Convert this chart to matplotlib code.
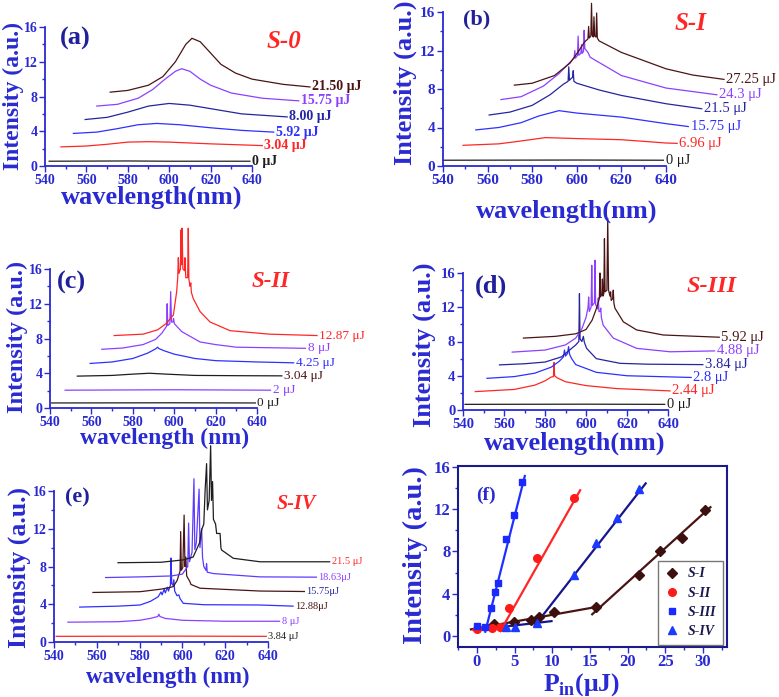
import matplotlib
matplotlib.use('Agg')
import matplotlib.pyplot as plt
from matplotlib.ticker import MultipleLocator

plt.rcParams['font.family'] = ['Liberation Serif', 'DejaVu Serif']
plt.rcParams['font.weight'] = 'bold'
plt.rcParams['mathtext.fontset'] = 'custom'
plt.rcParams['mathtext.rm'] = 'Liberation Serif:bold'
plt.rcParams['mathtext.bf'] = 'Liberation Serif:bold'

W, H = 779, 697

# colours
BLACK = '#1e1e1e'
RED = '#ff2626'
BLUE = '#2f2fff'
NAVY = '#25259e'
PURPLE = '#8c40ff'
VIOLET = '#5e3cff'
BROWN = '#4b1414'
AXC = '#2a2ad2'
LETTER = '#20209a'

# ---------------- spectra, (wavelength nm, intensity a.u.)
# (a) S-0
A_0 = [(542, 0.55), (580, 0.58), (600, 0.55), (639, 0.55)]
A_304 = [(547.7, 2.2), (560, 2.3), (570, 2.5), (580, 2.75), (590, 2.8), (600, 2.75), (620, 2.55), (645, 2.35)]
A_592 = [(553.7, 3.75), (565, 3.9), (575, 4.3), (585, 4.75), (594, 4.9), (605, 4.75), (620, 4.4), (635, 4.1), (650.5, 3.9)]
A_800 = [(559.4, 5.35), (570, 5.6), (580, 6.2), (590, 6.9), (600, 7.2), (610, 7.0), (620, 6.6), (635, 6.0), (657, 5.65)]
A_1575 = [(565, 6.9), (575, 7.1), (585, 7.8), (592, 8.8), (598, 10.0), (603, 10.9), (606, 11.2), (610, 10.9),
          (615, 10.0), (620, 9.3), (630, 8.4), (645, 7.8), (662.6, 7.5)]
A_2150 = [(571.5, 8.5), (580, 8.7), (590, 9.3), (597, 10.3), (603, 12.0), (608, 14.0), (611, 14.7), (615, 14.3),
          (620, 13.0), (625, 11.7), (632, 10.7), (640, 10.0), (655, 9.4), (668, 9.1)]

# (b) S-I
B_0 = [(540, 0.6), (600, 0.62), (638.8, 0.6)]
B_696 = [(549, 2.15), (565, 2.3), (575, 2.6), (586, 2.95), (600, 2.85), (620, 2.73), (640, 2.39), (645, 2.35)]
B_1575 = [(554.7, 3.75), (565, 4.0), (575, 4.5), (583, 5.2), (592, 5.75), (600, 5.5), (620, 5.08), (640, 4.4), (650, 4.1)]
B_2150 = [(560.7, 5.3), (570, 5.6), (580, 6.3), (588, 7.4), (594, 8.5), (596.1, 8.8), (596.4, 10.3), (596.7, 8.9),
          (597.5, 9.1), (598.1, 9.2), (598.4, 9.9), (598.7, 8.8), (600, 8.6), (610, 7.9), (620, 7.33), (640, 6.47),
          (656, 5.95)]
B_2430 = [(566, 6.9), (575, 7.2), (585, 8.3), (592, 9.6), (597, 10.8), (598.8, 11.2), (599.1, 12.0), (599.4, 11.2),
          (600.3, 11.5), (600.6, 13.5), (600.9, 11.5), (601.8, 11.7), (602.1, 12.6), (602.4, 11.7), (603, 11.9),
          (603.3, 14.1), (603.6, 12.2), (605, 11.8), (606, 11.3), (620, 9.4), (640, 8.1), (662.8, 7.4)]
B_2725 = [(572, 8.4), (580, 8.6), (590, 9.4), (597, 10.7), (601, 12.0), (603.5, 12.9), (605, 13.2), (605.3, 14.5),
          (605.6, 13.3), (606.3, 13.5), (606.6, 16.9), (606.9, 13.6), (607.4, 13.4), (607.7, 15.5), (608, 13.5),
          (608.6, 13.4), (608.9, 15.9), (609.2, 13.3), (610, 13.0), (620, 11.8), (640, 10.1), (652, 9.45), (666, 9.0)]

# (c) S-II
C_0 = [(540.8, 0.58), (600, 0.6), (639.2, 0.58)]
C_2 = [(547.3, 2.05), (600, 2.1), (646.5, 2.05)]
C_304 = [(553.2, 3.67), (570, 3.75), (580, 3.9), (588, 4.0), (596, 3.9), (610, 3.75), (630, 3.72), (652, 3.7)]
C_425 = [(559.4, 5.13), (570, 5.3), (580, 5.7), (587, 6.3), (591, 6.8), (592, 7.0), (592.5, 6.85), (595, 6.6),
         (600, 6.2), (610, 5.7), (620, 5.45), (640, 5.3), (657.7, 5.2)]
C_8 = [(565, 6.76), (575, 6.9), (585, 7.3), (591, 7.9), (594, 8.6), (596.3, 9.4), (596.6, 12.0), (596.9, 9.5),
       (597.9, 9.7), (598.3, 13.4), (598.7, 9.9), (599.4, 9.9), (599.7, 10.3), (600.1, 9.7), (603.6, 8.8),
       (612.5, 7.6), (620, 7.3), (630, 7.0), (663.4, 6.87)]
C_1287 = [(571, 8.34), (585, 8.5), (592, 9.0), (596, 9.7), (599.6, 10.7), (601.2, 13.4), (601.7, 15.0), (602, 17.3),
          (602.3, 15.5), (603, 16.0), (603.3, 20.5), (603.6, 16.5), (603.8, 20.7), (604.2, 16.0), (605, 15.8),
          (605.2, 17.3), (605.6, 15.0), (606.5, 15.0), (606.8, 20.7), (607.1, 14.8), (607.7, 14.0), (608, 14.4),
          (608.3, 13.3), (609.2, 12.6), (612.5, 11.1), (617.3, 9.9), (627, 8.9), (646, 8.5), (669, 8.34)]

# (d) S-III
D_0 = [(541, 0.66), (600, 0.68), (638.4, 0.66)]
D_244 = [(546, 2.15), (565, 2.4), (575, 2.9), (580, 3.4), (583, 3.85), (584.1, 3.9), (584.4, 5.55), (584.7, 4.0),
         (586, 3.75), (590, 3.3), (600, 2.85), (615, 2.5), (641, 2.23)]
D_28 = [(551.7, 3.7), (565, 3.9), (575, 4.3), (583, 5.0), (587, 5.7), (589, 6.2), (589.5, 7.0), (590, 6.3),
        (591, 6.6), (591.5, 7.4), (592, 6.5), (593, 6.0), (595, 5.3), (605, 4.4), (620, 4.0), (651.3, 3.8)]
D_384 = [(557.8, 5.27), (570, 5.4), (580, 5.6), (588, 6.2), (592, 7.0), (595, 7.6), (596.5, 8.0), (596.8, 13.6),
         (597.1, 8.3), (598, 8.0), (598.7, 8.6), (599.2, 7.9), (600.3, 7.2), (605, 6.0), (616.6, 5.45), (630, 5.35),
         (657, 5.3)]
D_488 = [(564, 6.76), (580, 7.0), (590, 7.6), (595, 8.4), (598, 9.5), (600, 10.8), (601, 12.0), (601.3, 13.2),
         (601.6, 11.5), (602.5, 12.0), (602.8, 16.9), (603.1, 12.2), (604.1, 12.5), (604.4, 17.5), (604.7, 12.3),
         (605.7, 11.8), (606, 13.1), (606.3, 11.5), (606.9, 11.5), (607.2, 11.9), (607.5, 10.8), (608.4, 9.9),
         (613.3, 8.4), (624.7, 7.2), (641, 6.8), (662.7, 6.9)]
D_592 = [(569.5, 8.4), (585, 8.6), (595, 8.9), (600, 9.4), (603, 10.5), (605, 11.8), (606.5, 13.0), (606.8, 16.0),
         (607.1, 13.2), (607.7, 13.5), (608, 15.3), (608.3, 13.3), (608.7, 13.6), (609, 20.0), (609.3, 13.8),
         (610.2, 14.0), (610.6, 22.4), (611, 14.0), (611.7, 13.3), (612, 13.8), (612.3, 12.8), (613, 13.0),
         (613.3, 14.0), (613.6, 12.5), (614.1, 11.9), (618.2, 10.3), (624.7, 9.35), (637.7, 8.76), (665, 8.5)]

# (e) S-IV
E_384 = [(541, 0.6), (600, 0.62), (639.2, 0.6)]
E_8 = [(546.5, 2.1), (570, 2.15), (580, 2.3), (585, 2.5), (588.5, 2.7), (589, 2.95), (589.5, 2.7), (592, 2.5),
       (600, 2.3), (620, 2.2), (645.4, 2.2)]
E_1288 = [(552, 3.7), (570, 3.8), (580.2, 3.92), (585, 4.3), (588.7, 4.8), (590, 5.3), (590.5, 5.0), (591.5, 5.6),
          (592, 5.2), (593, 5.8), (593.5, 5.4), (594.4, 6.0), (594.7, 8.9), (595, 6.2), (595.6, 6.0), (596, 6.6),
          (596.4, 5.4), (597.5, 4.9), (598.3, 5.0), (598.9, 4.6), (600.4, 4.1), (610, 3.95), (636.3, 3.92),
          (651.7, 3.8)]
E_1575 = [(558.2, 5.25), (580.2, 5.33), (590, 5.6), (595.7, 5.86), (597.5, 6.5), (598.9, 7.5), (599.2, 11.7),
          (599.5, 7.6), (600.2, 7.9), (600.8, 13.45), (601.2, 8.0), (601.6, 9.0), (602, 7.0), (603.5, 6.4),
          (604, 6.1), (608.2, 5.7), (636.3, 5.4), (657, 5.35)]
E_1863 = [(564.1, 6.83), (580.2, 6.9), (595, 7.0), (600, 7.2), (602.5, 8.0), (602.9, 12.6), (603.3, 8.5),
          (604.5, 9.5), (605.4, 17.3), (605.8, 9.8), (606.5, 10.5), (607.8, 16.2), (608.2, 10.0), (609, 12.0),
          (609.4, 9.0), (610, 8.0), (611, 7.6), (611.3, 8.3), (611.6, 7.4), (614.5, 7.25), (636.3, 6.9), (662.6, 6.87)]
E_215 = [(569.9, 8.4), (590, 8.45), (600.4, 8.7), (605, 9.0), (608, 10.5), (609, 11.9), (610, 12.5), (610.6, 16.0),
         (611.3, 18.9), (611.7, 14.0), (612.5, 15.0), (613.2, 20.8), (613.6, 15.0), (614.1, 17.0), (614.5, 13.0),
         (615.5, 12.5), (616, 11.5), (617.6, 11.5), (618, 10.0), (618.3, 9.75), (623.8, 8.87), (636.3, 8.5),
         (668.8, 8.5)]

# energy labels per panel
labels_a = ['0 μJ', '3.04 μJ', '5.92 μJ', '8.00 μJ', '15.75 μJ', '21.50 μJ']
labels_b = ['0 μJ', '6.96 μJ', '15.75 μJ', '21.5 μJ', '24.3 μJ', '27.25 μJ']
labels_c = ['0 μJ', '2 μJ', '3.04 μJ', '4.25 μJ', '8 μJ', '12.87 μJ']
labels_d = ['0 μJ', '2.44 μJ', '2.8 μJ', '3.84 μJ', '4.88 μJ', '5.92 μJ']
labels_e = ['3.84 μJ', '8 μJ', '12.88μJ', '15.75μJ', '18.63μJ', '21.5 μJ']

# ---------------- (f) threshold data, pump energy (μJ) vs intensity
SI_x = [2.2, 4.9, 7.2, 8.2, 10.2, 15.75, 21.5, 24.3, 27.25, 30.25]
SI_y = [1.1, 1.35, 1.55, 1.8, 2.3, 2.75, 5.75, 8.0, 9.3, 11.95]
SII_x = [0.0, 2.0, 3.0, 4.25, 8.0, 12.87]
SII_y = [0.7, 0.75, 0.85, 2.65, 7.35, 13.1]
SIII_x = [0.0, 1.0, 1.8, 2.44, 2.8, 3.84, 4.88, 5.92]
SIII_y = [0.95, 0.85, 2.6, 4.2, 5.0, 9.2, 11.5, 14.6]
SIV_x = [3.84, 5.0, 8.0, 12.88, 15.75, 18.63, 21.5]
SIV_y = [0.85, 0.85, 1.2, 5.8, 8.8, 11.2, 13.9]
# linear fits, end points
fit_SI = [([-0.8, 15.9], [0.62, 2.75]), ([15.3, 31.0], [2.05, 12.2])]
fit_SII = [([-0.5, 3.3], [0.57, 0.9]), ([3.1, 13.7], [0.45, 13.8])]
fit_SIII = [([1.1, 6.35], [0.4, 15.15])]
fit_SIV = [([-0.3, 9.9], [0.55, 1.4]), ([7.7, 22.4], [1.0, 14.45])]


def box(x0, x1, ytop, ybot):
    return [x0 / W, 1 - ybot / H, (x1 - x0) / W, (ybot - ytop) / H]


def ftext(x, y, s, **kw):
    fig.text(x / W, 1 - y / H, s, ha='center', va='center', **kw)


def style(ax, tsize):
    ax.patch.set_alpha(0)
    for s in ['top', 'right']:
        ax.spines[s].set_visible(False)
    for s in ['left', 'bottom']:
        ax.spines[s].set_color(AXC)
        ax.spines[s].set_linewidth(1.3)
    ax.tick_params(which='both', direction='out', color=AXC, width=1.0, labelcolor=AXC, labelsize=tsize, pad=1.5)
    ax.tick_params(which='major', length=4)
    ax.tick_params(which='minor', length=2.5)


def spectra(ax, curves, colors, labels, lcolors, lsize, lweight, tsize):
    ax.set_xlim(540, 640)
    ax.set_ylim(0, 16)
    ax.xaxis.set_major_locator(MultipleLocator(20))
    ax.xaxis.set_minor_locator(MultipleLocator(10))
    ax.yaxis.set_major_locator(MultipleLocator(4))
    ax.yaxis.set_minor_locator(MultipleLocator(2))
    for pts, c, lab, lc in zip(curves, colors, labels, lcolors):
        x = [p[0] for p in pts]
        y = [p[1] for p in pts]
        ax.plot(x, y, color=c, lw=0.9, clip_on=False)
        ax.text(x[-1] + 1.0, y[-1], lab, color=lc, fontsize=lsize, fontweight=lweight,
                ha='left', va='center', clip_on=False)
    style(ax, tsize)


fig = plt.figure(figsize=(W / 100, H / 100), dpi=100)

# (a)
ax = fig.add_axes(box(45, 252, 27, 166))
spectra(ax, [A_0, A_304, A_592, A_800, A_1575, A_2150],
        [BLACK, RED, BLUE, NAVY, PURPLE, BROWN], labels_a,
        [BLACK, RED, BLUE, NAVY, PURPLE, BROWN], 10, 'bold', 10)
ftext(13, 96, 'Intensity (a.u.)', rotation=90, fontsize=17, fontweight='bold', color=AXC)
ftext(152, 197, 'wavelength(nm)', fontsize=19, fontweight='bold', color=AXC)
ftext(75, 38, '(a)', fontsize=19, fontweight='bold', color=LETTER)
ftext(284, 41, 'S-0', fontsize=18, fontweight='bold', fontstyle='italic', color=RED)

# (b)
ax = fig.add_axes(box(443, 666, 12, 166))
spectra(ax, [B_0, B_696, B_1575, B_2150, B_2430, B_2725],
        [BLACK, RED, BLUE, NAVY, PURPLE, BROWN], labels_b,
        [BLACK, RED, BLUE, NAVY, PURPLE, BROWN], 10.5, 'normal', 11)
ftext(405, 83, 'Intensity (a.u.)', rotation=90, fontsize=19, fontweight='bold', color=AXC)
ftext(567, 211, 'wavelength(nm)', fontsize=19, fontweight='bold', color=AXC)
ftext(477, 19, '(b)', fontsize=16, fontweight='bold', color=LETTER)
ftext(691, 24, 'S-I', fontsize=18, fontweight='bold', fontstyle='italic', color=RED)

# (c)
ax = fig.add_axes(box(50, 257, 269, 408))
spectra(ax, [C_0, C_2, C_304, C_425, C_8, C_1287],
        [BLACK, PURPLE, BLACK, BLUE, PURPLE, RED], labels_c,
        [BLACK, PURPLE, BROWN, BLUE, PURPLE, RED], 9.5, 'normal', 10)
ftext(17, 337, 'Intensity (a.u.)', rotation=90, fontsize=17.5, fontweight='bold', color=AXC)
ftext(165, 438, 'wavelength (nm)', fontsize=17, fontweight='bold', color=AXC)
ftext(71, 282, '(c)', fontsize=19, fontweight='bold', color=LETTER)
ftext(271, 282, 'S-II', fontsize=16.5, fontweight='bold', fontstyle='italic', color=RED)

# (d)
ax = fig.add_axes(box(463, 668, 273, 410))
spectra(ax, [D_0, D_244, D_28, D_384, D_488, D_592],
        [BLACK, RED, BLUE, NAVY, PURPLE, BROWN], labels_d,
        [BLACK, RED, BLUE, NAVY, PURPLE, BROWN], 10.5, 'normal', 10.5)
ftext(424, 345, 'Intensity (a.u.)', rotation=90, fontsize=19, fontweight='bold', color=AXC)
ftext(575, 443, 'wavelength(nm)', fontsize=19, fontweight='bold', color=AXC)
ftext(491, 286, '(d)', fontsize=19, fontweight='bold', color=LETTER)
ftext(712, 287, 'S-III', fontsize=17.5, fontweight='bold', fontstyle='italic', color=RED)

# (e)
ax = fig.add_axes(box(54, 268, 491, 642))
spectra(ax, [E_384, E_8, E_1288, E_1575, E_1863, E_215],
        [RED, PURPLE, BLUE, BROWN, VIOLET, BLACK], labels_e,
        [BLACK, PURPLE, BROWN, NAVY, PURPLE, RED], 7.5, 'normal', 10)
ftext(19, 567, 'Intensity (a.u.)', rotation=90, fontsize=18.5, fontweight='bold', color=AXC)
ftext(168, 677, 'wavelength (nm)', fontsize=16.5, fontweight='bold', color=AXC)
ftext(77, 497, '(e)', fontsize=16, fontweight='bold', color=LETTER)
ftext(296, 504, 'S-IV', fontsize=14.5, fontweight='bold', fontstyle='italic', color=RED)

# (f)
ax = fig.add_axes(box(458, 727, 466, 647))
ax.set_xlim(-2.52, 33.2)
ax.set_ylim(-1.05, 16.1)
ax.xaxis.set_major_locator(MultipleLocator(5))
ax.xaxis.set_minor_locator(MultipleLocator(2.5))
ax.yaxis.set_major_locator(MultipleLocator(4))
ax.yaxis.set_minor_locator(MultipleLocator(2))
for fits, c in [(fit_SI, BROWN), (fit_SII, RED), (fit_SIII, '#1f2fff'), (fit_SIV, '#16168c')]:
    for fx, fy in fits:
        ax.plot(fx, fy, color=c, lw=1.6)
ax.plot(SI_x, SI_y, 'D', color='#3d0f0f', ms=5, ls='none', label='S-I')
ax.plot(SII_x, SII_y, 'o', color='#ff1a1a', ms=5.5, ls='none', label='S-II')
ax.plot(SIII_x, SIII_y, 's', color='#1a2aff', ms=5, ls='none', label='S-III')
ax.plot(SIV_x, SIV_y, '^', color='#1a3aff', ms=6, ls='none', label='S-IV')
style(ax, 12)
ax.tick_params(axis='x', pad=1)
for s in ['top', 'right']:
    ax.spines[s].set_visible(True)
for s in ax.spines.values():
    s.set_color('#1a1a8a')
    s.set_linewidth(1.5)
leg = ax.legend(loc='lower right', bbox_to_anchor=(0.985, 0.01), borderaxespad=0, frameon=True,
                fancybox=False, edgecolor='#555555', handlelength=1.0, handletextpad=0.6,
                labelspacing=0.45, borderpad=0.5,
                prop={'family': 'Liberation Serif', 'weight': 'bold', 'style': 'italic', 'size': 10},
                labelcolor='#1a1a50')
leg.get_frame().set_linewidth(1.0)
ftext(415, 555, 'Intensity (a.u.)', rotation=90, fontsize=20.5, fontweight='bold', color=AXC)
ftext(582, 685, r'P$_{\rm in}$(μJ)', fontsize=18.5, fontweight='bold', color=AXC)
ftext(486, 495, '(f)', fontsize=14, fontweight='bold', color=AXC)

fig.savefig('out.png', dpi=100)
